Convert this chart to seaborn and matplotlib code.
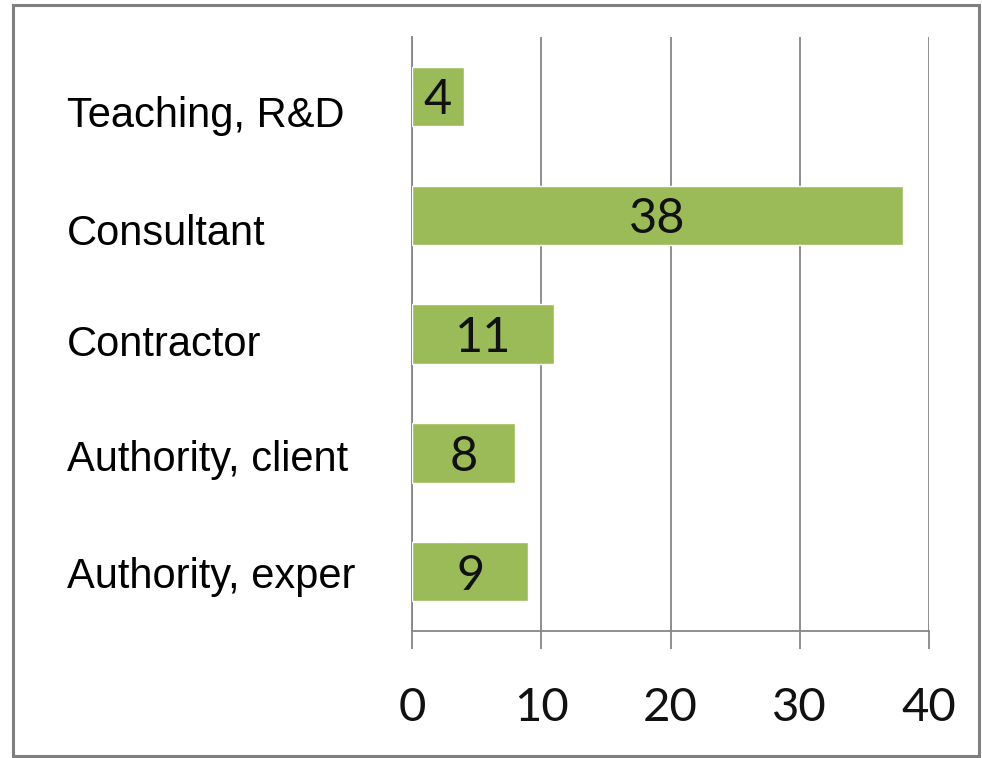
import seaborn as sns
import matplotlib.pyplot as plt
import matplotlib.transforms as mtransforms
from matplotlib.patches import Rectangle
import pandas as pd

# data
categories = ['Teaching, R&D', 'Consultant', 'Contractor', 'Authority, client', 'Authority, exper']
counts     = [4, 38, 11, 8, 9]
x_ticks    = [0, 10, 20, 30, 40]

df = pd.DataFrame({'category': categories, 'count': counts})

sns.set_style('white')
plt.rcParams['font.family'] = ['Liberation Sans', 'DejaVu Sans']

W, H = 982, 758
fig = plt.figure(figsize=(W / 100, H / 100), dpi=100)
ax  = fig.add_axes([412 / W, 1 - 631 / H, (929 - 412) / W, (631 - 37) / H])

bar_green = '#9BBB59'
line_gray = '#868686'

sns.barplot(data=df, x='count', y='category', orient='h', color=bar_green,
            saturation=1, width=0.5, ax=ax, zorder=3)

ax.set_xlim(0, 40)
ax.set_ylim(4.5, -0.5)
ax.set_xticks(x_ticks)
ax.set_xlabel('')
ax.set_ylabel('')

# vertical gridlines, ticks sticking out below the axis
ax.xaxis.grid(True, color=line_gray, lw=1.3, zorder=0)
ax.set_axisbelow(True)
ax.tick_params(axis='x', bottom=True, direction='out', length=13, width=1.3, color=line_gray,
               pad=27, labelsize=34, labelcolor='#111111')
for lab in ax.get_xticklabels():
    lab.set_fontfamily(['Lato', 'DejaVu Sans'])

# category labels left aligned near the left edge of the picture
ax.tick_params(axis='y', left=False, length=0, pad=(412 - 67) * 0.72, labelsize=30, labelcolor='black')
label_nudge_px = [15, 14, 6, 3, 1]
for lab, dy in zip(ax.get_yticklabels(), label_nudge_px):
    lab.set_horizontalalignment('left')
    lab.set_transform(lab.get_transform() + mtransforms.ScaledTranslation(0, -dy / 100, fig.dpi_scale_trans))

for side in ['top', 'right']:
    ax.spines[side].set_visible(False)
for side in ['left', 'bottom']:
    ax.spines[side].set_color(line_gray)
    ax.spines[side].set_linewidth(1.3)

# value labels in the middle of each bar
texts = ax.bar_label(ax.containers[0], labels=[str(v) for v in counts], label_type='center',
                     fontsize=35, family=['Lato', 'DejaVu Sans'], color='#111111')
for t in texts:
    t.set_verticalalignment('center_baseline')

# gray frame round the picture
fig.patches.append(Rectangle((13 / W, 1 - 756 / H), 966 / W, 751 / H, transform=fig.transFigure,
                             fill=False, edgecolor='#7f7f7f', lw=2.2))

fig.savefig('out.png', dpi=100)
